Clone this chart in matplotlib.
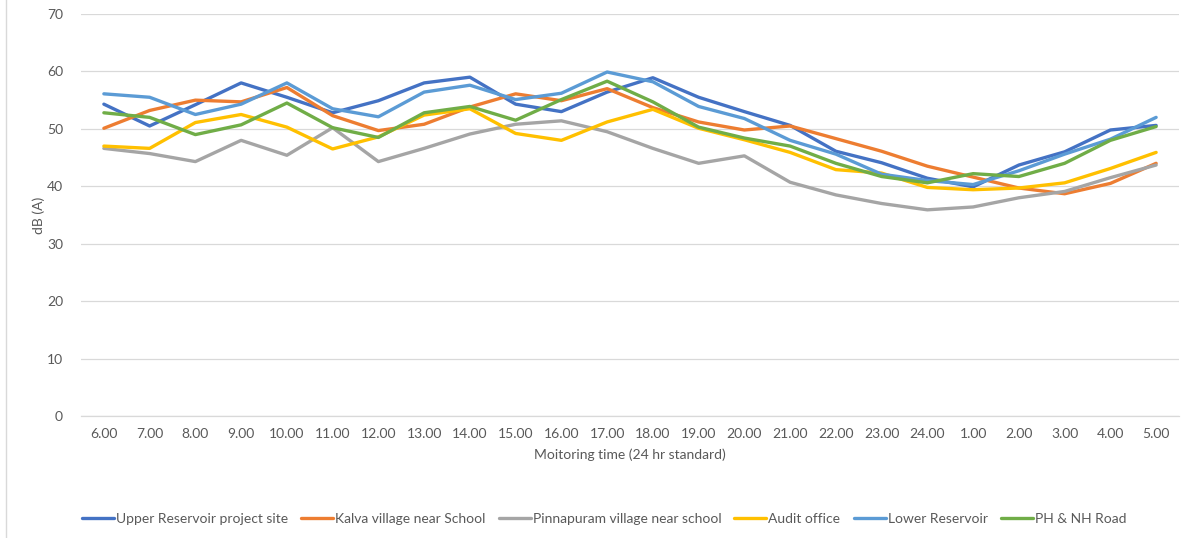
import matplotlib.pyplot as plt
from matplotlib.lines import Line2D

plt.rcParams['font.family'] = ['Lato', 'DejaVu Sans']

hours = ['6.00', '7.00', '8.00', '9.00', '10.00', '11.00', '12.00', '13.00', '14.00', '15.00',
         '16.00', '17.00', '18.00', '19.00', '20.00', '21.00', '22.00', '23.00', '24.00', '1.00',
         '2.00', '3.00', '4.00', '5.00']

upper_reservoir = [54.3, 50.5, 54.2, 58.0, 55.5, 52.8, 54.9, 58.0, 59.0, 54.3, 53.0, 56.4,
                   58.9, 55.5, 53.0, 50.6, 46.1, 44.1, 41.4, 39.9, 43.7, 46.0, 49.8, 50.6]
kalva = [50.1, 53.2, 55.0, 54.7, 57.2, 52.3, 49.7, 50.8, 53.8, 56.1, 54.9, 57.0,
         53.7, 51.2, 49.8, 50.5, 48.3, 46.1, 43.5, 41.6, 39.7, 38.7, 40.5, 44.0]
pinnapuram = [46.6, 45.7, 44.3, 48.0, 45.4, 50.2, 44.3, 46.6, 49.1, 50.8, 51.4, 49.5,
              46.6, 44.0, 45.3, 40.7, 38.5, 37.0, 35.9, 36.4, 38.0, 39.1, 41.5, 43.7]
audit_office = [47.0, 46.6, 51.1, 52.5, 50.3, 46.5, 48.6, 52.4, 53.5, 49.2, 48.0, 51.2,
                53.4, 50.1, 48.1, 45.9, 42.9, 42.3, 39.8, 39.4, 39.7, 40.6, 43.1, 45.9]
lower_reservoir = [56.1, 55.5, 52.5, 54.3, 58.0, 53.5, 52.1, 56.4, 57.6, 55.1, 56.2, 59.9,
                   58.2, 53.9, 51.8, 48.0, 45.6, 42.1, 41.0, 40.3, 42.7, 45.6, 48.2, 52.0]
ph_nh_road = [52.8, 52.0, 49.0, 50.7, 54.5, 50.2, 48.5, 52.8, 53.9, 51.5, 55.1, 58.3,
              54.7, 50.3, 48.4, 47.0, 44.0, 41.7, 40.6, 42.2, 41.7, 44.0, 48.0, 50.4]

series = [
    ('Upper Reservoir project site', upper_reservoir, '#4472C4'),
    ('Kalva village near School', kalva, '#ED7D31'),
    ('Pinnapuram village near school', pinnapuram, '#A5A5A5'),
    ('Audit office', audit_office, '#FFC000'),
    ('Lower Reservoir', lower_reservoir, '#5B9BD5'),
    ('PH & NH Road', ph_nh_road, '#70AD47'),
]

fig = plt.figure(figsize=(11.92, 5.38), dpi=100)
ax = fig.add_axes([81 / 1192, 1 - 416 / 538, 1098 / 1192, 402 / 538])

x = range(len(hours))
for name, vals, col in series:
    ax.plot(x, vals, color=col, lw=2.4, label=name, solid_capstyle='round', solid_joinstyle='round')

ax.set_xlim(-0.5, len(hours) - 0.5)
ax.set_ylim(0, 70)
ax.set_yticks(range(0, 71, 10))
ax.set_xticks(list(x))
ax.set_xticklabels(hours)
ax.yaxis.grid(True, color='#D9D9D9', lw=0.9)
ax.set_axisbelow(True)
for s in ['top', 'right', 'left']:
    ax.spines[s].set_visible(False)
ax.spines['bottom'].set_color('#D9D9D9')
ax.spines['bottom'].set_linewidth(0.9)
ax.tick_params(axis='both', length=0, labelsize=10, colors='#595959', pad=9)
ax.tick_params(axis='y', pad=13)

ax.set_xlabel('Moitoring time (24 hr standard)', fontsize=10, color='#595959', labelpad=6)
ax.set_ylabel('dB (A)', fontsize=10, color='#595959', labelpad=0)
ax.yaxis.set_label_coords(-36 / 1098, 0.5)

fig.legend(loc='center', bbox_to_anchor=(604 / 1192, 1 - 519 / 538), ncol=6, frameon=False,
           fontsize=10, labelcolor='#595959', handlelength=2.3, columnspacing=0.95,
           handletextpad=0.15)

fig.add_artist(Line2D([6 / 1192, 6 / 1192], [0, 1], color='#D9D9D9', lw=1))

fig.savefig('out.png', dpi=100)
